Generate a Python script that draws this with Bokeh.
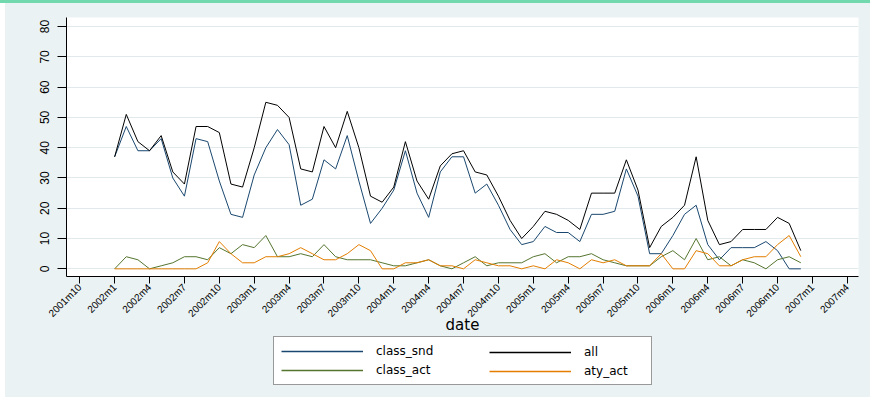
import math
from bokeh.plotting import figure
from bokeh.models import Range1d, FixedTicker, Legend, LegendItem, Div, Spacer
from bokeh.layouts import column, row
from bokeh.embed import file_html
from bokeh.resources import INLINE

# ---------------- data ----------------
years = [2002, 2003, 2004, 2005, 2006]
dates = [f"{y}m{m}" for y in years for m in range(1, 13)]

class_snd = [37, 47, 39, 39, 43, 30, 24, 43, 42, 29, 18, 17,
             31, 40, 46, 41, 21, 23, 36, 33, 44, 29, 15, 20,
             26, 39, 25, 17, 32, 37, 37, 25, 28, 21, 13, 8,
             9, 14, 12, 12, 9, 18, 18, 19, 33, 24, 5, 5,
             11, 18, 21, 8, 3, 7, 7, 7, 9, 6, 0, 0]

all_cases = [37, 51, 42, 39, 44, 32, 28, 47, 47, 45, 28, 27,
             40, 55, 54, 50, 33, 32, 47, 40, 52, 40, 24, 22,
             27, 42, 29, 23, 34, 38, 39, 32, 31, 24, 16, 10,
             14, 19, 18, 16, 13, 25, 25, 25, 36, 26, 7, 14,
             17, 21, 37, 16, 8, 9, 13, 13, 13, 17, 15, 6]

class_act = [0, 4, 3, 0, 1, 2, 4, 4, 3, 7, 5, 8,
             7, 11, 4, 4, 5, 4, 8, 4, 3, 3, 3, 2,
             1, 1, 2, 3, 1, 0, 2, 4, 1, 2, 2, 2,
             4, 5, 2, 4, 4, 5, 3, 2, 1, 1, 1, 4,
             6, 3, 10, 3, 4, 1, 3, 2, 0, 3, 4, 2]

aty_act = [0, 0, 0, 0, 0, 0, 0, 0, 2, 9, 5, 2,
           2, 4, 4, 5, 7, 5, 3, 3, 5, 8, 6, 0,
           0, 2, 2, 3, 1, 1, 0, 3, 2, 1, 1, 0,
           1, 0, 3, 2, 0, 3, 2, 3, 1, 1, 1, 5,
           0, 0, 6, 5, 1, 1, 3, 4, 4, 8, 11, 4]

tick_labels = ["2001m10", "2002m1", "2002m4", "2002m7", "2002m10",
               "2003m1", "2003m4", "2003m7", "2003m10",
               "2004m1", "2004m4", "2004m7", "2004m10",
               "2005m1", "2005m4", "2005m7", "2005m10",
               "2006m1", "2006m4", "2006m7", "2006m10",
               "2007m1", "2007m4"]
y_ticks = [0, 10, 20, 30, 40, 50, 60, 70, 80]

series_names = ["class_snd", "all", "class_act", "aty_act"]
series_values = [class_snd, all_cases, class_act, aty_act]
series_colors = ["#1a476f", "black", "#55752f", "#e37e00"]

BG = "#EAF2F3"


def month_index(label):
    y, m = label.split("m")
    return (int(y) - 2001) * 12 + int(m) - 10


x = [month_index(d) for d in dates]
tick_pos = [month_index(t) for t in tick_labels]

# ---------------- main figure ----------------
p = figure(width=865, height=333, output_backend="svg", toolbar_location=None,
           x_range=Range1d(-1.14, 66.96), y_range=Range1d(-2.53, 83.0),
           min_border_left=61, min_border_right=12, min_border_top=14,
           min_border_bottom=59,
           background_fill_color="white", border_fill_color=BG,
           outline_line_color=None)

for name, vals, col in zip(series_names, series_values, series_colors):
    p.line(x, vals, line_color=col, line_width=1)

# axes
p.xaxis.ticker = FixedTicker(ticks=tick_pos)
p.xaxis.major_label_overrides = {pos: lab for pos, lab in zip(tick_pos, tick_labels)}
p.xaxis.major_label_orientation = math.pi / 4
p.xaxis.major_tick_out = 7
p.xaxis.major_tick_in = 0
p.xaxis.minor_tick_out = 0
p.xaxis.minor_tick_in = 0
p.xaxis.major_label_standoff = 2
p.xaxis.major_label_text_font = "Liberation Sans"
p.xaxis.major_label_text_font_size = "10px"
p.xaxis.major_label_text_color = "black"
p.xaxis.axis_label = "date"
p.xaxis.axis_label_text_font = "DejaVu Sans"
p.xaxis.axis_label_text_font_style = "normal"
p.xaxis.axis_label_text_font_size = "15px"
p.xaxis.axis_label_text_color = "black"
p.xaxis.axis_label_standoff = -10
p.xaxis.axis_line_color = "black"
p.xaxis.major_tick_line_color = "black"

p.yaxis.ticker = FixedTicker(ticks=y_ticks)
p.yaxis.major_label_orientation = "vertical"
p.yaxis.major_tick_out = 9
p.yaxis.major_tick_in = 0
p.yaxis.minor_tick_out = 0
p.yaxis.minor_tick_in = 0
p.yaxis.major_label_standoff = 8
p.yaxis.major_label_text_font = "Liberation Sans"
p.yaxis.major_label_text_font_size = "12px"
p.yaxis.major_label_text_color = "black"
p.yaxis.axis_line_color = "black"
p.yaxis.major_tick_line_color = "black"

p.xgrid.visible = False
p.ygrid.grid_line_color = "#E1E9EC"
p.ygrid.grid_line_width = 1

# ---------------- legend strip (same side borders as the main plot) ----------------
q = figure(width=865, height=61, output_backend="svg", toolbar_location=None,
           x_range=Range1d(-300, -200), y_range=Range1d(-300, -200),
           x_axis_type=None, y_axis_type=None,
           min_border_left=61, min_border_right=12, min_border_top=0,
           min_border_bottom=0,
           background_fill_color=BG, border_fill_color=BG,
           outline_line_color=None)
# key renderers: same series, but outside the strip's (empty) ranges
key = {name: q.line(x, vals, line_color=col, line_width=1.3)
       for name, vals, col in zip(series_names, series_values, series_colors)}

common = dict(orientation="vertical", glyph_width=82, glyph_height=14,
              label_height=14, label_standoff=13, spacing=5, padding=7,
              margin=0, label_width=268, label_text_font="DejaVu Sans",
              label_text_font_size="12px", label_text_color="black")
legA = Legend(items=[LegendItem(label="class_snd", renderers=[key["class_snd"]]),
                     LegendItem(label="class_act", renderers=[key["class_act"]])],
              location=(207, 12),
              border_line_color="#333333", border_line_width=1,
              background_fill_color="white", background_fill_alpha=1.0,
              **common)
legB = Legend(items=[LegendItem(label="all", renderers=[key["all"]]),
                     LegendItem(label="aty_act", renderers=[key["aty_act"]])],
              location=(416, 12),
              border_line_alpha=0.0, background_fill_alpha=0.0,
              **common)
q.add_layout(legA)
q.add_layout(legB)

top_bar = Div(text="", width=870, height=3, margin=0,
              styles={"background-color": "#72D8AE", "overflow": "hidden"})
left_pad = Spacer(width=5, height=394, margin=0,
                  styles={"background-color": "white"})
charts = column(p, q, spacing=0, styles={"background-color": BG})
layout = column(top_bar, row(left_pad, charts, spacing=0), spacing=0)

open("out.html", "w").write(file_html(layout, INLINE))
